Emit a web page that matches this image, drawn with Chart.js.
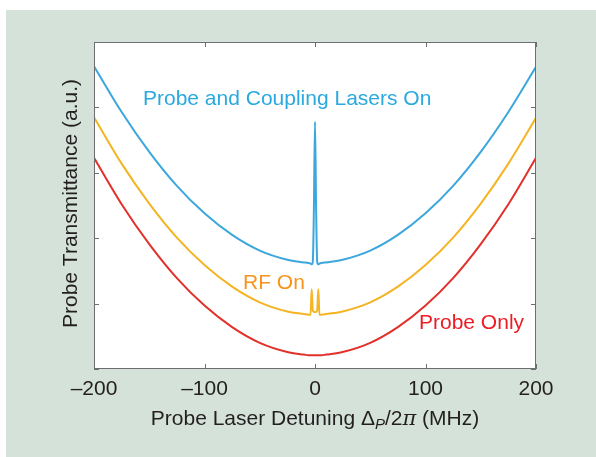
<!DOCTYPE html>
<html>
<head>
<meta charset="utf-8">
<script src="https://cdn.jsdelivr.net/npm/chart.js@4.4.0/dist/chart.umd.min.js"></script>
<style>
  html, body { margin: 0; padding: 0; background: #fff; }
</style>
</head>
<body>
<canvas id="chart" width="596" height="457"></canvas>
<script>
// probe detuning (MHz)
const detuning = [-200, -175, -150, -125, -100, -75, -50, -25, -10, -6, -4, -3, -2, -1, 0,
                  1, 2, 3, 4, 6, 10, 25, 50, 75, 100, 125, 150, 175, 200];

// transmittance (a.u.)
const couplingOn = [4.63, 3.93, 3.32, 2.80, 2.38, 2.05, 1.81, 1.67, 1.63, 1.62, 1.61, 1.60, 1.64, 2.45, 3.78,
                    2.45, 1.64, 1.60, 1.61, 1.62, 1.63, 1.67, 1.81, 2.05, 2.38, 2.80, 3.32, 3.93, 4.62];
const rfOn = [3.85, 3.14, 2.53, 2.01, 1.59, 1.26, 1.02, 0.88, 0.84, 0.83, 0.83, 1.22, 0.90, 0.87, 0.87,
              0.87, 0.90, 1.22, 0.83, 0.83, 0.84, 0.88, 1.02, 1.26, 1.59, 2.01, 2.53, 3.14, 3.84];
const probeOnly = [3.23, 2.52, 1.91, 1.39, 0.97, 0.64, 0.40, 0.26, 0.22, 0.21, 0.21, 0.21, 0.21, 0.21, 0.21,
                   0.21, 0.21, 0.21, 0.21, 0.21, 0.22, 0.26, 0.40, 0.64, 0.97, 1.39, 1.91, 2.52, 3.23];

const seriesNames = ['Probe and Coupling Lasers On', 'RF On', 'Probe Only'];
const xTicks = [-200, -100, 0, 100, 200];
const xTickLabels = ['\u2013200', '\u2013100', '0', '100', '200'];
const yTicks = [0, 1, 2, 3, 4, 5];

const FONT = '"Liberation Sans", Arial, sans-serif';
Chart.defaults.font.family = FONT;

const toPts = (ys) => detuning.map((x, i) => ({ x: x, y: ys[i] }));

const frame = {
  id: 'frame',
  beforeDraw(chart) {
    const { ctx, chartArea: a } = chart;
    ctx.save();
    ctx.fillStyle = '#fff';
    ctx.fillRect(0, 0, chart.width, chart.height);
    ctx.fillStyle = '#d5e2da';
    ctx.fillRect(6, 10, chart.width - 6, chart.height - 10);
    ctx.fillStyle = '#fff';
    ctx.fillRect(a.left, a.top, a.right - a.left, a.bottom - a.top);
    ctx.restore();
  },
  afterDraw(chart) {
    const { ctx, chartArea: a } = chart;
    const xs = chart.scales.x, ys = chart.scales.y;
    ctx.save();
    // box + inward ticks
    ctx.strokeStyle = '#6d6e71';
    ctx.lineWidth = 1;
    ctx.strokeRect(a.left + 0.5, a.top + 0.5, a.right - a.left - 1, a.bottom - a.top - 1);
    ctx.beginPath();
    xTicks.forEach(v => {
      const px = Math.round(xs.getPixelForValue(v)) + 0.5;
      ctx.moveTo(px, a.bottom); ctx.lineTo(px, a.bottom - 5);
      ctx.moveTo(px, a.top); ctx.lineTo(px, a.top + 5);
    });
    yTicks.forEach(v => {
      const py = Math.round(ys.getPixelForValue(v)) + 0.5;
      ctx.moveTo(a.left, py); ctx.lineTo(a.left + 5, py);
      ctx.moveTo(a.right, py); ctx.lineTo(a.right - 5, py);
    });
    ctx.stroke();

    // series labels
    ctx.font = '21px ' + FONT;
    ctx.textBaseline = 'alphabetic';
    ctx.textAlign = 'left';
    ctx.fillStyle = '#29a9e0';
    ctx.fillText(seriesNames[0], 143, 105);
    ctx.fillStyle = '#f7931e';
    ctx.fillText(seriesNames[1], 243, 289);
    ctx.fillStyle = '#ec1c24';
    ctx.fillText(seriesNames[2], 419, 329);

    // y title
    ctx.fillStyle = '#231f20';
    ctx.save();
    ctx.translate(77, 328);
    ctx.rotate(-Math.PI / 2);
    ctx.fillText('Probe Transmittance (a.u.)', 0, 0);
    ctx.restore();

    // x title with subscript
    const parts = [
      ['Probe Laser Detuning \u0394', '21px ' + FONT, 0],
      ['P', 'italic 15px ' + FONT, 4],
      ['/2', '21px ' + FONT, 0],
      ['\u03c0', 'italic 21px "DejaVu Serif", serif', 0],
      [' (MHz)', '21px ' + FONT, 0]
    ];
    let total = 0;
    parts.forEach(p => { ctx.font = p[1]; total += ctx.measureText(p[0]).width; });
    let x = (a.left + a.right) / 2 - total / 2;
    parts.forEach(p => {
      ctx.font = p[1];
      ctx.fillText(p[0], x, 425 + p[2]);
      x += ctx.measureText(p[0]).width;
    });
    ctx.restore();
  }
};

new Chart(document.getElementById('chart'), {
  type: 'line',
  data: {
    datasets: [
      { label: seriesNames[0], data: toPts(couplingOn), borderColor: '#3ba7dd' },
      { label: seriesNames[1], data: toPts(rfOn), borderColor: '#f5b423' },
      { label: seriesNames[2], data: toPts(probeOnly), borderColor: '#e2302a' }
    ]
  },
  options: {
    responsive: false,
    animation: false,
    parsing: false,
    layout: { padding: { top: 42, right: 60, left: 0, bottom: 0 } },
    elements: {
      point: { radius: 0 },
      line: { borderWidth: 2, cubicInterpolationMode: 'monotone', fill: false }
    },
    plugins: { legend: { display: false }, tooltip: { enabled: false } },
    scales: {
      x: {
        type: 'linear', min: -200, max: 200,
        afterBuildTicks: s => { s.ticks = xTicks.map(v => ({ value: v })); },
        afterFit: s => { s.height = 88; },
        grid: { display: false, drawTicks: false },
        border: { display: false },
        ticks: {
          padding: 8, maxRotation: 0, autoSkip: false,
          color: '#231f20', font: { size: 21 },
          callback: v => xTickLabels[xTicks.indexOf(v)]
        }
      },
      y: {
        min: 0, max: 5,
        afterFit: s => { s.width = 94; },
        grid: { display: false },
        border: { display: false },
        ticks: { display: false, stepSize: 1 }
      }
    }
  },
  plugins: [frame]
});
</script>
</body>
</html>
